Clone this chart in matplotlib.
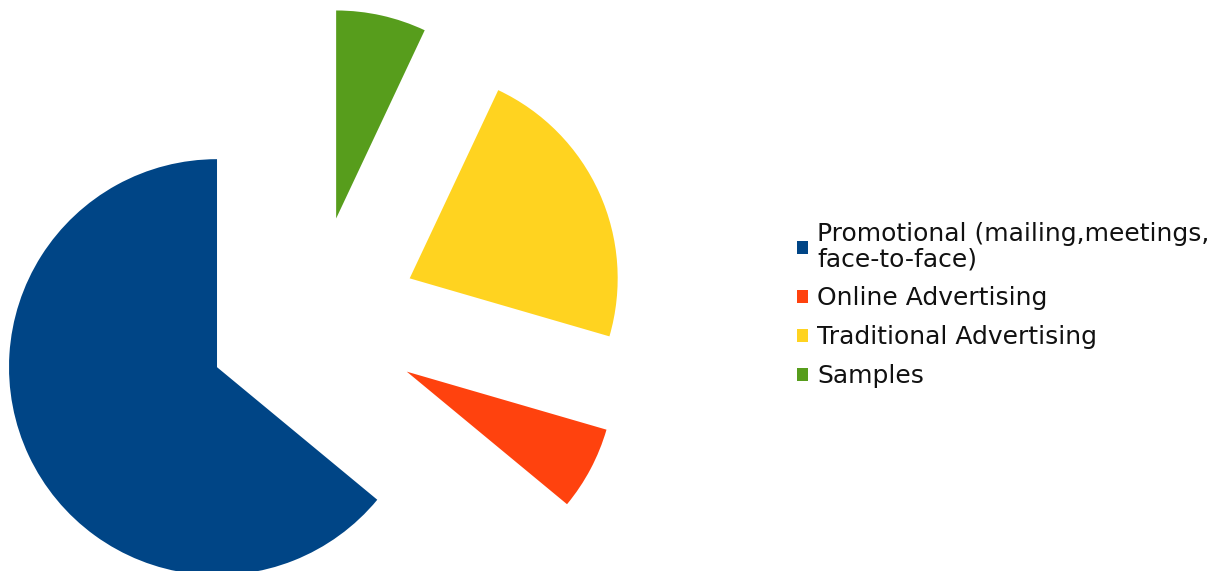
import matplotlib
matplotlib.use("Agg")
import matplotlib.pyplot as plt
from matplotlib.patches import Patch

labels = ["Promotional (mailing,meetings,\nface-to-face)", "Online Advertising",
          "Traditional Advertising", "Samples"]
values = [64.0, 6.5, 22.5, 7.0]
colors = ["#004586", "#ff420e", "#ffd320", "#579d1c"]
explode = [0.51, 0.51, 0.51, 0.51]

W, H, DPI = 1224, 571, 100
fig = plt.figure(figsize=(W / DPI, H / DPI), dpi=DPI)
ax = fig.add_axes([0, 0, 1, 1])

R = 208.0  # pixel radius
cx, cy = 313.0, 322.0  # centre in pixel coords (y down)
ax.pie(values, colors=colors, explode=explode, startangle=90, counterclock=True,
       radius=1.0, wedgeprops=dict(linewidth=0))
ax.set_xlim(-cx / R, (W - cx) / R)
ax.set_ylim(-(H - cy) / R, cy / R)
ax.set_aspect("auto")
ax.axis("off")

handles = [Patch(facecolor=c, edgecolor="none") for c in colors]
leg = fig.legend(handles, labels, loc="upper left",
                 bbox_to_anchor=(797 / W, 1 - 222 / H), frameon=False,
                 borderaxespad=0, borderpad=0,
                 handlelength=0.45, handleheight=0.45,
                 handletextpad=0.36, labelspacing=0.6,
                 prop={"family": "DejaVu Sans", "size": 18})
for t in leg.get_texts():
    t.set_color("#111111")
    t.set_linespacing(1.07)

fig.savefig("out.png", dpi=DPI, facecolor="white")
